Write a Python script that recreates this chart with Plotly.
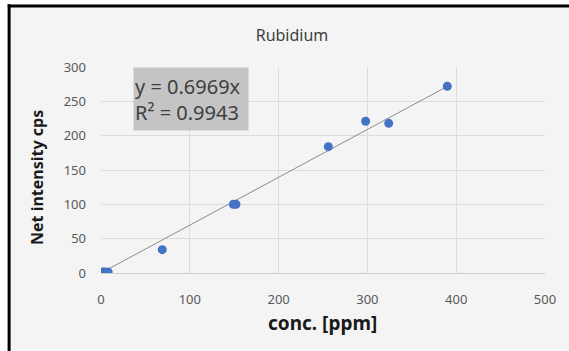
import plotly.graph_objects as go

# Data
conc_ppm = [3, 8, 69, 149, 152, 256, 298, 324, 390]
net_intensity = [2, 1.5, 34, 100, 100, 184, 221, 218, 272]
slope = 0.6969
r_squared = 0.9943
x_ticks = [0, 100, 200, 300, 400, 500]
y_ticks = [0, 50, 100, 150, 200, 250, 300]

trend_x = [min(conc_ppm), max(conc_ppm)]
trend_y = [slope * v for v in trend_x]

fig = go.Figure()
fig.add_trace(go.Scatter(x=trend_x, y=trend_y, mode="lines",
                         line=dict(color="#8c8c8c", width=1), hoverinfo="skip",
                         showlegend=False))
fig.add_trace(go.Scatter(x=conc_ppm, y=net_intensity, mode="markers",
                         marker=dict(color="#4472c4", size=9), showlegend=False))

font_family = "Noto Sans, Open Sans, sans-serif"
fig.update_layout(
    width=569, height=351,
    margin=dict(l=101, r=24, t=67, b=78, autoexpand=False),
    paper_bgcolor="#ffffff",
    plot_bgcolor="#f6f6f6",
    font=dict(family=font_family, color="#595959", size=13),
    title=dict(text="Rubidium", x=292 / 569, xanchor="center",
               y=1 - 35 / 351, yanchor="middle",
               font=dict(size=16, color="#404040", family=font_family)),
    xaxis=dict(range=[0, 500], tickvals=x_ticks, showgrid=True, gridcolor="#dcdcdc",
               gridwidth=1, zeroline=False, showline=True, linecolor="#cfcfcf",
               ticks="", ticklabelstandoff=14, automargin=False),
    yaxis=dict(range=[0, 300], tickvals=y_ticks, showgrid=True, gridcolor="#dcdcdc",
               gridwidth=1, zeroline=False, showline=False,
               ticks="", ticklabelstandoff=14, automargin=False),
    shapes=[
        dict(type="rect", xref="paper", yref="paper", x0=-0.207, x1=1.2, y0=-0.5, y1=1.296,
             fillcolor="#f4f4f4", line=dict(width=0), layer="below"),
        dict(type="line", xref="paper", yref="paper", x0=-0.207, x1=-0.207, y0=-0.5, y1=1.305,
             line=dict(color="#000000", width=3)),
        dict(type="line", xref="paper", yref="paper", x0=-0.21, x1=1.2, y0=1.296, y1=1.296,
             line=dict(color="#000000", width=3)),
    ],
    annotations=[
        dict(xref="paper", yref="paper", x=(133 - 101) / 444, y=1.0, xanchor="left", yanchor="top",
             text="y = 0.6969x<br>R² = 0.9943", showarrow=False, align="left",
             font=dict(size=20, color="#404040", family=font_family),
             bgcolor="#c4c4c4", width=112, height=60, borderpad=1),
        dict(xref="paper", yref="paper", x=(322 - 101) / 444, y=-(323 - 273) / 206,
             xanchor="center", yanchor="middle", showarrow=False,
             text="<b>conc. [ppm]</b>", font=dict(size=19, color="#1a1a1a", family=font_family)),
        dict(xref="paper", yref="paper", x=-(101 - 37) / 444, y=(273 - 178) / 206,
             xanchor="center", yanchor="middle", showarrow=False, textangle=-90,
             text="<b>Net intensity cps</b>", font=dict(size=16, color="#1a1a1a", family=font_family)),
    ],
)

fig.write_html("out.html", config={"displayModeBar": False},
               post_script="document.body.style.margin='0';")
